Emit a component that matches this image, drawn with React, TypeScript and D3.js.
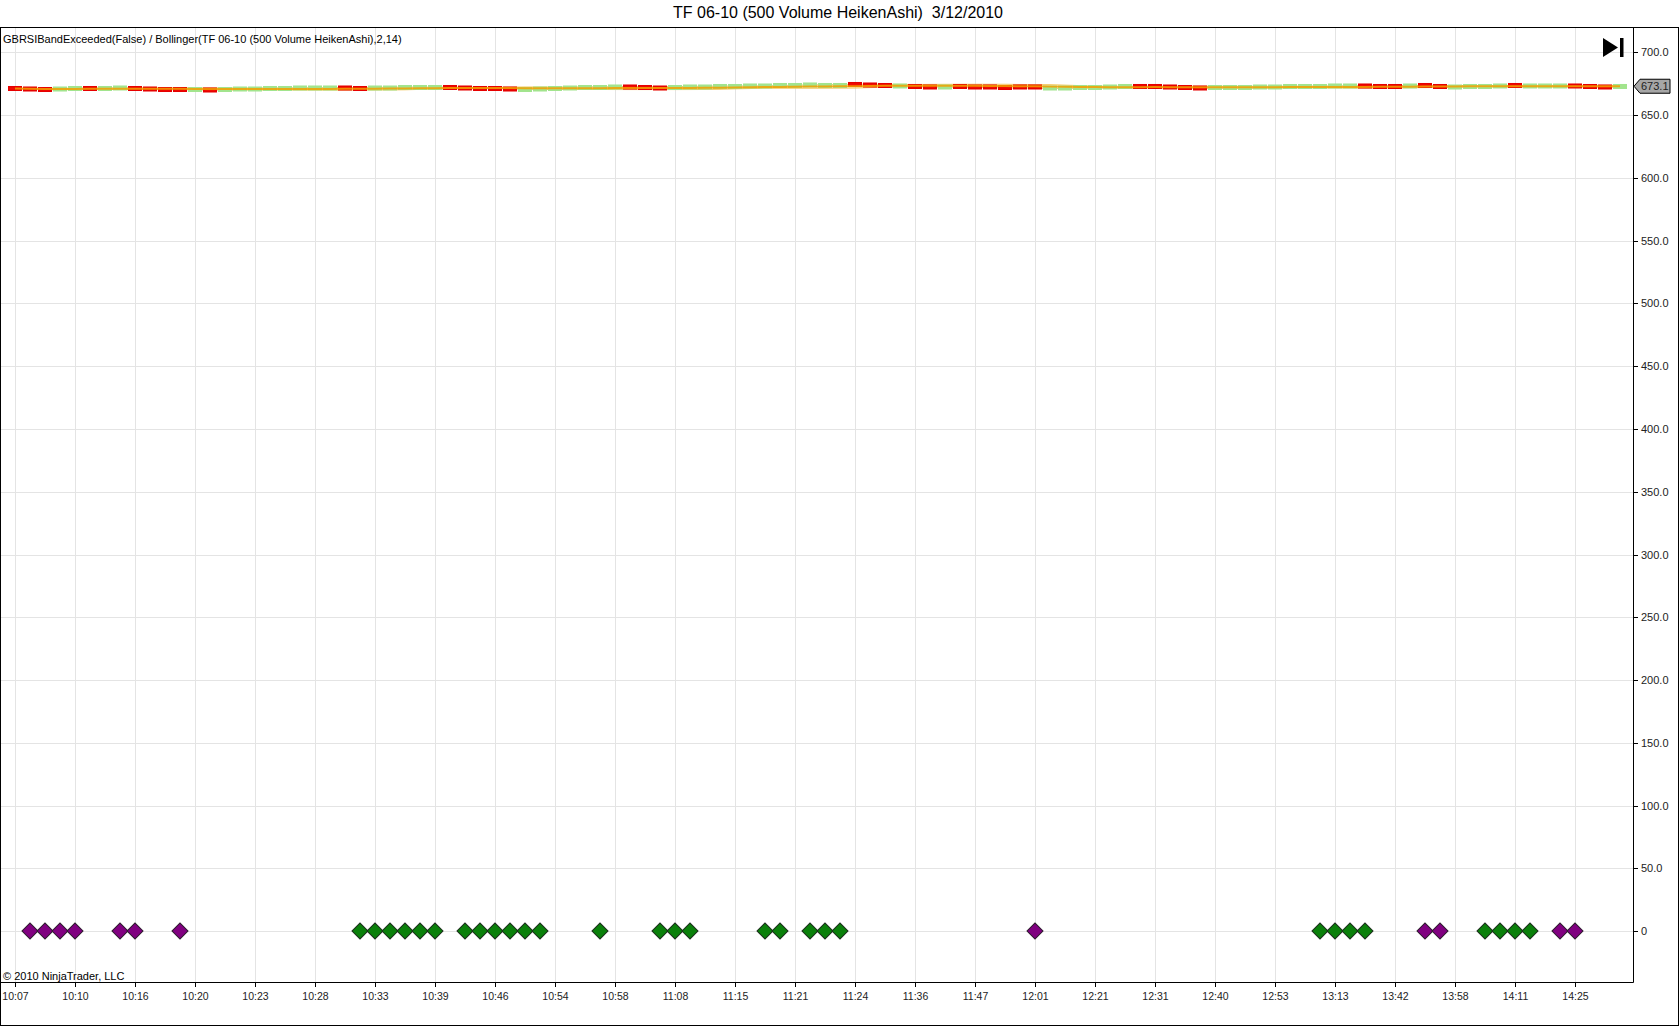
import React, { useEffect } from 'react';
import * as d3 from 'd3';

// Heiken Ashi bars (500 volume), one per bar index
const haOpen = [
  672.7, 672.3, 671.9, 669.5, 669.9, 672.7, 669.9, 670.3, 672.7, 672.3,
  671.9, 671.9, 669.1, 671.5, 669.1, 669.5, 669.5, 669.9, 669.9, 670.3,
  670.3, 670.3, 673.1, 672.7, 670.3, 670.3, 670.7, 670.7, 670.7, 673.5,
  673.1, 672.7, 672.7, 672.3, 669.1, 669.5, 669.9, 670.3, 670.7, 670.7,
  671.1, 673.9, 673.5, 673.1, 670.7, 671.1, 671.1, 671.5, 671.5, 671.9,
  671.9, 672.3, 672.3, 672.7, 672.3, 672.3, 675.9, 675.5, 675.1, 671.9,
  674.3, 673.9, 671.1, 674.3, 673.9, 673.9, 673.5, 673.9, 673.9, 670.3,
  670.3, 670.7, 670.7, 671.1, 671.5, 674.3, 674.3, 673.9, 673.5, 673.1,
  670.7, 670.7, 670.7, 671.1, 671.1, 671.5, 671.5, 671.5, 671.9, 671.9,
  674.7, 674.3, 674.3, 671.9, 675.1, 674.3, 671.1, 671.5, 671.5, 671.9,
  675.1, 671.9, 671.9, 671.9, 674.7, 674.3, 673.9, 671.5,
];
const haClose = [
  669.9, 669.5, 669.1, 672.3, 672.7, 669.9, 672.7, 673.1, 669.9, 669.5,
  669.1, 669.1, 671.9, 668.7, 671.9, 672.3, 672.3, 672.7, 672.7, 673.1,
  673.1, 673.1, 670.3, 669.9, 673.1, 673.1, 673.5, 673.5, 673.5, 670.7,
  670.3, 669.9, 669.9, 669.5, 671.9, 672.3, 672.7, 673.1, 673.5, 673.5,
  673.9, 671.1, 670.7, 670.3, 673.5, 673.9, 673.9, 674.3, 674.3, 674.7,
  674.7, 675.1, 675.1, 675.5, 675.1, 675.1, 673.1, 672.7, 672.3, 674.7,
  671.5, 671.1, 673.9, 671.5, 671.1, 671.1, 670.7, 671.1, 671.1, 673.1,
  673.1, 673.5, 673.5, 673.9, 674.3, 671.5, 671.5, 671.1, 670.7, 670.3,
  673.5, 673.5, 673.5, 673.9, 673.9, 674.3, 674.3, 674.3, 674.7, 674.7,
  671.9, 671.5, 671.5, 674.7, 672.3, 671.5, 673.9, 674.3, 674.3, 674.7,
  672.3, 674.7, 674.7, 674.7, 671.9, 671.5, 671.1, 674.3,
];
const lastPrice = 673.1;

// GBRSIBandExceeded signals (bar indexes), plotted at 0
const upSignals = [23, 24, 25, 26, 27, 28, 30, 31, 32, 33, 34, 35, 39, 43, 44, 45, 50, 51, 53, 54, 55, 87, 88, 89, 90, 98, 99, 100, 101];
const downSignals = [1, 2, 3, 4, 7, 8, 11, 68, 94, 95, 103, 104];

// time labels, one every 4 bars starting at bar 0
const timeLabels = [
  '10:07', '10:10', '10:16', '10:20', '10:23', '10:28', '10:33', '10:39', '10:46',
  '10:54', '10:58', '11:08', '11:15', '11:21', '11:24', '11:36', '11:47', '12:01',
  '12:21', '12:31', '12:40', '12:53', '13:13', '13:42', '13:58', '14:11', '14:25',
];
const priceTicks = [0, 50, 100, 150, 200, 250, 300, 350, 400, 450, 500, 550, 600, 650, 700];

const W = 1680;
const H = 1026;
const plot = { left: 0, top: 27, right: 1633, bottom: 982 };
const font = '"Liberation Sans", Arial, sans-serif';

export default function App() {
  useEffect(() => {
    document.body.style.margin = '0';
  }, []);

  const x = d3.scaleLinear().domain([-1, 107.8667]).range([plot.left, plot.right]);
  const y = d3.scaleLinear().domain([-40.6, 720.3]).range([plot.bottom, plot.top]);

  // Bollinger(2,14) on bar midpoints
  const mids = haOpen.map((o, i) => (o + haClose[i]) / 2);
  const bands = mids.map((_, i) => {
    const win = mids.slice(Math.max(0, i - 13), i + 1);
    const m = d3.mean(win) as number;
    const sd = Math.sqrt(d3.mean(win, (v) => (v - m) * (v - m)) as number);
    return { mid: m, upper: m + 2 * sd, lower: m - 2 * sd };
  });
  const bandLine = (key: 'mid' | 'upper' | 'lower') =>
    d3.line<{ mid: number; upper: number; lower: number }>()
      .x((_, i) => x(i))
      .y((d) => y(d[key]))(bands) as string;

  const diamond = d3.symbol(d3.symbolSquare, 128)() as string;
  const barW = 12.5;

  return (
    <svg width={W} height={H} style={{ display: 'block', background: '#fff' }} fontFamily={font}>
      <defs>
        <clipPath id="plotClip">
          <rect x={plot.left} y={plot.top} width={plot.right - plot.left} height={plot.bottom - plot.top} />
        </clipPath>
      </defs>

      {/* title */}
      <text x={838} y={18} textAnchor="middle" fontSize={16} fill="#000" style={{ whiteSpace: 'pre' }}>
        {'TF 06-10 (500 Volume HeikenAshi)  3/12/2010'}
      </text>

      {/* grid */}
      <g stroke="#e4e4e4" strokeWidth={1}>
        {priceTicks.map((t) => (
          <line key={'h' + t} x1={plot.left} x2={plot.right} y1={Math.round(y(t)) + 0.5} y2={Math.round(y(t)) + 0.5} />
        ))}
        {timeLabels.map((_, k) => (
          <line key={'v' + k} x1={Math.round(x(k * 4)) + 0.5} x2={Math.round(x(k * 4)) + 0.5} y1={plot.top} y2={plot.bottom} />
        ))}
      </g>

      <g clipPath="url(#plotClip)">
        {/* bollinger bands under the bars */}
        <path d={bandLine('upper')} fill="none" stroke="#f5c860" strokeWidth={1} />
        <path d={bandLine('lower')} fill="none" stroke="#f5c860" strokeWidth={1} />

        {/* heiken ashi bars */}
        {haOpen.map((o, i) => {
          const c = haClose[i];
          const up = c >= o;
          const top = y(Math.max(o, c));
          const bot = y(Math.min(o, c));
          return (
            <rect
              key={'b' + i}
              x={x(i) - barW / 2}
              y={top}
              width={barW}
              height={Math.max(1, bot - top)}
              fill={up ? '#a2e48e' : '#f20c00'}
              stroke={up ? '#a2e48e' : '#e60000'}
              strokeWidth={1.5}
            />
          );
        })}

        {/* middle band drawn over the bars */}
        <path d={bandLine('mid')} fill="none" stroke="#f2a000" strokeOpacity={0.85} strokeWidth={2} />

        {/* signal diamonds */}
        {upSignals.map((b) => (
          <path key={'u' + b} d={diamond} transform={`translate(${x(b)},${y(0)}) rotate(45)`} fill="#0a800a" stroke="#1a2e1a" strokeWidth={1} />
        ))}
        {downSignals.map((b) => (
          <path key={'d' + b} d={diamond} transform={`translate(${x(b)},${y(0)}) rotate(45)`} fill="#800080" stroke="#2e1a2e" strokeWidth={1} />
        ))}
      </g>

      {/* indicator label */}
      <text x={3} y={43} fontSize={11} fill="#000">
        GBRSIBandExceeded(False) / Bollinger(TF 06-10 (500 Volume HeikenAshi),2,14)
      </text>
      <text x={3} y={980} fontSize={11} fill="#000">© 2010 NinjaTrader, LLC</text>

      {/* play-to-end button */}
      <g fill="#000">
        <path d="M1603,38 L1618,47.5 L1603,57 Z" />
        <rect x={1620} y={38} width={3.5} height={19} />
      </g>

      {/* frames */}
      <g fill="none" stroke="#000" strokeWidth={1}>
        <rect x={0.5} y={27.5} width={W - 2} height={H - 28} />
        <line x1={plot.right + 0.5} x2={plot.right + 0.5} y1={plot.top} y2={plot.bottom + 0.5} />
        <line x1={0} x2={plot.right + 0.5} y1={plot.bottom + 0.5} y2={plot.bottom + 0.5} />
      </g>

      {/* price axis */}
      <g fontSize={11} fill="#222">
        {priceTicks.map((t) => (
          <g key={'p' + t} transform={`translate(0,${Math.round(y(t)) + 0.5})`}>
            <line x1={plot.right} x2={plot.right + 5} stroke="#000" />
            <text x={plot.right + 8} dy="0.35em">{t === 0 ? '0' : d3.format('.1f')(t)}</text>
          </g>
        ))}
      </g>

      {/* last price marker */}
      <g transform={`translate(0,${y(lastPrice)})`}>
        <path
          d={`M${plot.right + 1},0 L${plot.right + 7},-7 L${plot.right + 37},-7 L${plot.right + 37},7 L${plot.right + 7},7 Z`}
          fill="#a6a6a6"
          stroke="#000"
          strokeWidth={1}
        />
        <text x={plot.right + 8} dy="0.35em" fontSize={11} fill="#222">{lastPrice.toFixed(1)}</text>
      </g>

      {/* time axis */}
      <g fontSize={10.5} fill="#222">
        {timeLabels.map((lab, k) => {
          const px = Math.round(x(k * 4)) + 0.5;
          return (
            <g key={'t' + k}>
              <line x1={px} x2={px} y1={plot.bottom} y2={plot.bottom + 5} stroke="#000" />
              <text x={px} y={1000} textAnchor="middle">{lab}</text>
            </g>
          );
        })}
      </g>
    </svg>
  );
}
